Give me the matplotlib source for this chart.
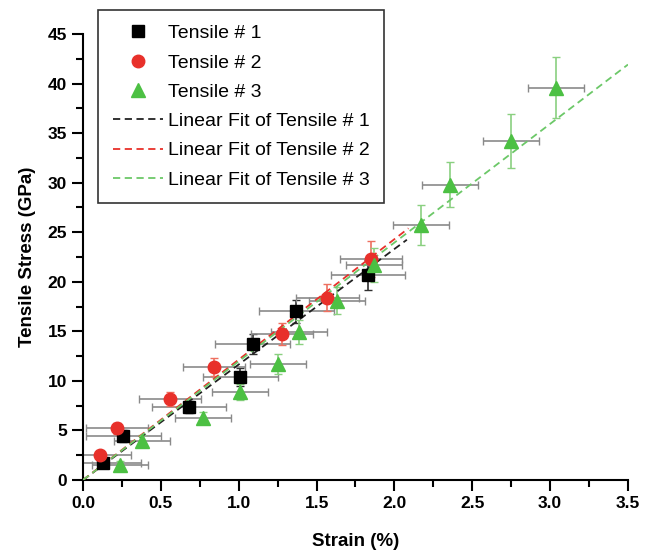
import numpy as np
import matplotlib.pyplot as plt
from matplotlib.ticker import MultipleLocator, FormatStrFormatter

plt.rcParams['font.family'] = ['Liberation Sans', 'DejaVu Sans']

# Tensile # 1 (black squares)
x1 = [0.13, 0.26, 0.68, 1.01, 1.09, 1.37, 1.83]
y1 = [1.7, 4.4, 7.4, 10.4, 13.7, 17.0, 20.7]
xe1 = [0.24, 0.24, 0.24, 0.24, 0.24, 0.24, 0.24]
ye1 = [0.4, 0.6, 0.6, 0.9, 1.0, 1.2, 1.5]

# Tensile # 2 (red circles)
x2 = [0.11, 0.22, 0.56, 0.84, 1.28, 1.57, 1.85]
y2 = [2.5, 5.2, 8.2, 11.4, 14.7, 18.4, 22.3]
xe2 = [0.2, 0.2, 0.2, 0.2, 0.2, 0.2, 0.2]
ye2 = [0.4, 0.6, 0.7, 0.9, 1.1, 1.4, 1.8]

# Tensile # 3 (green triangles)
x3 = [0.24, 0.38, 0.77, 1.01, 1.25, 1.39, 1.63, 1.87, 2.17, 2.36, 2.75, 3.04]
y3 = [1.5, 3.9, 6.3, 8.9, 11.7, 14.9, 18.1, 21.7, 25.7, 29.8, 34.2, 39.6]
xe3 = [0.18, 0.18, 0.18, 0.18, 0.18, 0.18, 0.18, 0.18, 0.18, 0.18, 0.18, 0.18]
ye3 = [0.4, 0.6, 0.6, 0.8, 1.0, 1.2, 1.4, 1.7, 2.0, 2.3, 2.7, 3.1]

# extent of each fitted line
fit_end = [2.08, 2.09, 3.5]

series = [
    (x1, y1, xe1, ye1, 's', 'black', '#303030', 8, 'Tensile # 1'),
    (x2, y2, xe2, ye2, 'o', '#e8302a', '#ee7060', 9, 'Tensile # 2'),
    (x3, y3, xe3, ye3, '^', '#4cc043', '#8ad080', 10, 'Tensile # 3'),
]
fit_colors = ['#222222', '#e8302a', '#6cc868']

fig = plt.figure(figsize=(6.45, 5.58), dpi=100)
ax = fig.add_axes([0.1287, 0.1398, 0.8449, 0.7993])

pts = []
fits = []
for (x, y, xe, ye, m, c, ec, ms, lab), fc, xend in zip(series, fit_colors, fit_end):
    x = np.array(x)
    y = np.array(y)
    ax.errorbar(x, y, xerr=xe, fmt='none', ecolor='#8a8a8a', elinewidth=1.2, capsize=3, zorder=2)
    ax.errorbar(x, y, yerr=ye, fmt='none', ecolor=ec, elinewidth=1.2, capsize=3, zorder=2)
    p, = ax.plot(x, y, m, color=c, markersize=ms, linestyle='none', label=lab, zorder=4)
    pts.append(p)
    # least-squares fit through the origin
    k = np.sum(x * y) / np.sum(x * x)
    xs = np.array([0, xend])
    f, = ax.plot(xs, k * xs, '--', color=fc, lw=1.3, dashes=(4, 2.5),
                 label='Linear Fit of ' + lab, zorder=3)
    fits.append(f)

ax.set_xlim(0, 3.5)
ax.set_ylim(0, 45)
ax.xaxis.set_major_locator(MultipleLocator(0.5))
ax.xaxis.set_minor_locator(MultipleLocator(0.25))
ax.yaxis.set_major_locator(MultipleLocator(5))
ax.yaxis.set_minor_locator(MultipleLocator(2.5))
ax.xaxis.set_major_formatter(FormatStrFormatter('%.1f'))
ax.spines['top'].set_visible(False)
ax.spines['right'].set_visible(False)
for s in ['left', 'bottom']:
    ax.spines[s].set_linewidth(1.5)
ax.tick_params(which='major', length=8, width=1.5, labelsize=12.5)
ax.tick_params(which='minor', length=5, width=1.5)
for t in ax.get_xticklabels() + ax.get_yticklabels():
    t.set_fontweight('bold')

ax.set_xlabel('Strain (%)', fontsize=13.5, fontweight='bold', labelpad=16)
ax.set_ylabel('Tensile Stress (GPa)', fontsize=13.5, fontweight='bold', labelpad=8)

leg = fig.legend(handles=pts + fits, loc='upper left', bbox_to_anchor=(0.152, 0.982),
                 fontsize=14, frameon=True, fancybox=False, edgecolor='black',
                 handlelength=2.6, handletextpad=0.25, labelspacing=0.6,
                 borderpad=0.75, borderaxespad=0)
leg.get_frame().set_linewidth(1.2)

fig.savefig('out.png', dpi=100)
